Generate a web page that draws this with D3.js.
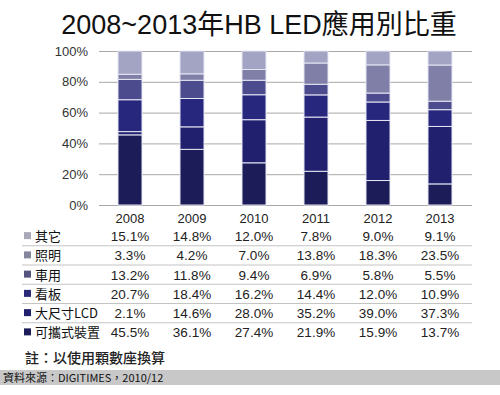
<!DOCTYPE html>
<html>
<head>
<meta charset="utf-8">
<script src="https://cdn.jsdelivr.net/npm/d3@7"></script>
<style>
  body { margin: 0; background: #fff; }
  svg { display: block; font-family: "Liberation Sans", Arial, "Noto Sans CJK TC", sans-serif; }
</style>
</head>
<body>
<svg width="500" height="395"></svg>
<script>
// data
var years = ["2008", "2009", "2010", "2011", "2012", "2013"];
var categories = ["可攜式裝置", "大尺寸LCD", "看板", "車用", "照明", "其它"]; // bottom -> top
var portable = [45.5, 36.1, 27.4, 21.9, 15.9, 13.7];
var largeLcd = [2.1, 14.6, 28.0, 35.2, 39.0, 37.3];
var signage = [20.7, 18.4, 16.2, 14.4, 12.0, 10.9];
var auto = [13.2, 11.8, 9.4, 6.9, 5.8, 5.5];
var lighting = [3.3, 4.2, 7.0, 13.8, 18.3, 23.5];
var other = [15.1, 14.8, 12.0, 7.8, 9.0, 9.1];
var yTicks = [0, 0.2, 0.4, 0.6, 0.8, 1];

var series = [portable, largeLcd, signage, auto, lighting, other];
var colors = ["#1c1c58", "#20206f", "#27277e", "#4b4b8e", "#7f7fa8", "#a3a3c3"];
var swatch = ["#1c1c58", "#20206f", "#2a2a78", "#555580", "#85859c", "#a8a8b8"];

var rows = years.map(function (y, i) {
  var r = { year: y };
  categories.forEach(function (c, j) { r[c] = series[j][i]; });
  return r;
});

var svg = d3.select("svg");

var x = d3.scaleBand().domain(years).range([99, 471]).paddingInner(0.613).paddingOuter(0.3065);
var y = d3.scaleLinear().domain([0, 1]).range([205, 51]);

// title
svg.append("text")
  .attr("x", 259).attr("y", 34)
  .attr("text-anchor", "middle")
  .attr("font-size", 27)
  .attr("fill", "#111")
  .text("2008~2013年HB LED應用別比重");

// gridlines + y labels
var yAxis = d3.axisLeft(y).tickValues(yTicks).tickSize(-373).tickFormat(d3.format(".0%"));
var gy = svg.append("g").attr("transform", "translate(99,0)").call(yAxis);
gy.select(".domain").remove();
gy.selectAll(".tick line").attr("stroke", "#a8a8a8");
gy.selectAll(".tick text")
  .attr("x", -11)
  .attr("font-size", 13)
  .attr("fill", "#333")
  .attr("font-family", "Liberation Sans, Arial, sans-serif");

// stacked bars
var stack = d3.stack().keys(categories).offset(d3.stackOffsetExpand);
var layers = stack(rows);

svg.selectAll("g.layer")
  .data(layers)
  .enter().append("g")
  .attr("class", "layer")
  .attr("fill", function (d, i) { return colors[i]; })
  .selectAll("rect")
  .data(function (d) { return d; })
  .enter().append("rect")
  .attr("x", function (d) { return x(d.data.year); })
  .attr("width", x.bandwidth())
  .attr("y", function (d) { return y(d[1]); })
  .attr("height", function (d) { return y(d[0]) - y(d[1]); })
  .attr("stroke", "#e6e6f4")
  .attr("stroke-width", 1);

// year labels
var xAxis = d3.axisBottom(x).tickSize(0).tickPadding(9);
var gx = svg.append("g").attr("transform", "translate(0,205)").call(xAxis);
gx.select(".domain").remove();
gx.selectAll(".tick text")
  .attr("font-size", 13)
  .attr("fill", "#222")
  .attr("font-family", "Liberation Sans, Arial, sans-serif");

// data table, top row = top of stack
var tableOrder = categories.slice().reverse();
var rowY = d3.scaleBand().domain(tableOrder).range([226.5, 342]);

var tbl = svg.append("g");
tbl.selectAll("line.sep")
  .data(tableOrder.slice(1))
  .enter().append("line")
  .attr("x1", 22).attr("x2", 472)
  .attr("y1", function (d) { return rowY(d); })
  .attr("y2", function (d) { return rowY(d); })
  .attr("stroke", "#c4c4c4");

var row = tbl.selectAll("g.row")
  .data(tableOrder)
  .enter().append("g")
  .attr("transform", function (d) { return "translate(0," + (rowY(d) + rowY.bandwidth() / 2) + ")"; });

row.append("rect")
  .attr("x", 24).attr("y", -4)
  .attr("width", 7).attr("height", 7)
  .attr("fill", function (d) { return swatch[categories.indexOf(d)]; });

row.append("text")
  .attr("x", 35).attr("y", 5)
  .attr("font-size", 13)
  .attr("fill", "#111")
  .attr("font-family", "Noto Sans CJK TC, sans-serif")
  .text(function (d) { return d; });

row.selectAll("text.val")
  .data(function (d) {
    var s = series[categories.indexOf(d)];
    return years.map(function (yr, i) { return { year: yr, v: s[i] }; });
  })
  .enter().append("text")
  .attr("class", "val")
  .attr("x", function (d) { return x(d.year) + x.bandwidth() / 2; })
  .attr("y", 5)
  .attr("text-anchor", "middle")
  .attr("font-size", 13.5)
  .attr("fill", "#222")
  .text(function (d) { return d3.format(".1f")(d.v) + "%"; });

// note + source bar
svg.append("text")
  .attr("x", 25).attr("y", 363)
  .attr("font-size", 14)
  .attr("font-weight", 500)
  .attr("fill", "#222")
  .attr("font-family", "Noto Sans CJK TC, sans-serif")
  .text("註：以使用顆數座換算");

svg.append("rect")
  .attr("x", 0).attr("y", 370)
  .attr("width", 500).attr("height", 15)
  .attr("fill", "#c8c8c8");

svg.append("text")
  .attr("x", 3).attr("y", 382)
  .attr("font-size", 11)
  .attr("fill", "#111")
  .attr("font-family", "Noto Sans CJK TC, sans-serif")
  .text("資料來源：DIGITIMES，2010/12");
</script>
</body>
</html>
